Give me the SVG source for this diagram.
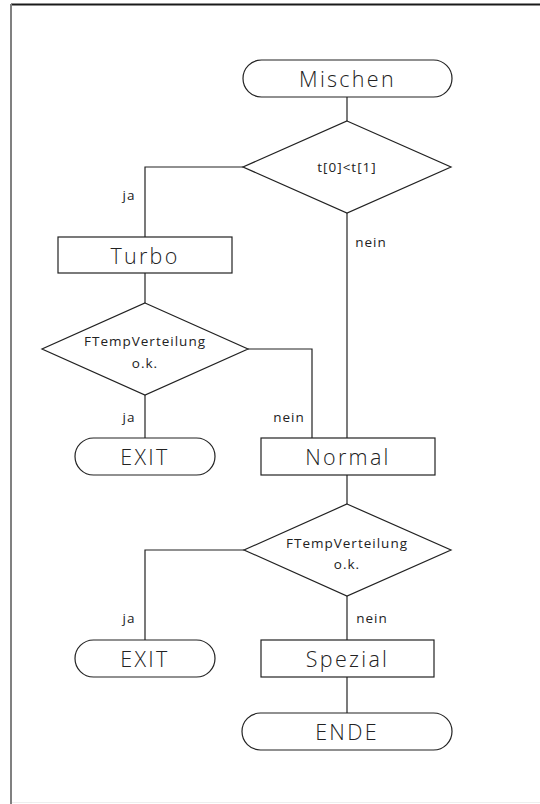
<svg xmlns="http://www.w3.org/2000/svg" width="540" height="804" viewBox="0 0 540 804">
  <style>
    .shape { fill: #ffffff; stroke: #222222; stroke-width: 1.2; }
    .wire { fill: none; stroke: #222222; stroke-width: 1.2; }
    .big { font-family: "Open Sans", "Liberation Sans", sans-serif; font-weight: 300; font-size: 21.5px; letter-spacing: 2.3px; fill: #222222; text-anchor: middle; dominant-baseline: central; }
    .small { font-family: "Open Sans", "Liberation Sans", sans-serif; font-weight: 400; font-size: 13.5px; letter-spacing: 1px; fill: #222222; text-anchor: middle; dominant-baseline: central; }
  </style>

  <!-- page frame -->
  <rect x="0" y="0" width="540" height="804" fill="#ffffff"/>
  <line x1="11" y1="4.5" x2="540" y2="4.5" stroke="#1a1a1a" stroke-width="2"/>
  <line x1="11" y1="4" x2="11" y2="804" stroke="#808080" stroke-width="2"/>
  <line x1="12" y1="802.5" x2="540" y2="802.5" stroke="#eeeeee" stroke-width="1"/>

  <g id="connectors">
    <line class="wire" x1="347" y1="97" x2="347" y2="121"/>
    <polyline class="wire" points="243,167 145,167 145,237"/>
    <line class="wire" x1="347" y1="213" x2="347" y2="438"/>
    <line class="wire" x1="145" y1="273" x2="145" y2="303"/>
    <line class="wire" x1="145" y1="395" x2="145" y2="438"/>
    <polyline class="wire" points="248,349 312,349 312,438"/>
    <line class="wire" x1="347" y1="475" x2="347" y2="504"/>
    <polyline class="wire" points="244,550 145,550 145,640"/>
    <line class="wire" x1="347" y1="596" x2="347" y2="640"/>
    <line class="wire" x1="347" y1="677" x2="347" y2="713"/>
    <text class="small" x="129" y="195">ja</text>
    <text class="small" x="371" y="242">nein</text>
    <text class="small" x="129" y="417">ja</text>
    <text class="small" x="289" y="417">nein</text>
    <text class="small" x="129" y="618">ja</text>
    <text class="small" x="372" y="618">nein</text>
  </g>

  <g id="mischen">
    <rect class="shape" x="243" y="60" width="209" height="37" rx="18.5"/>
    <text class="big" x="347.5" y="78.5">Mischen</text>
  </g>

  <g id="decision-t">
    <polygon class="shape" points="347,121 451,167 347,213 243,167"/>
    <text class="small" x="347" y="167">t[0]&lt;t[1]</text>
  </g>

  <g id="turbo">
    <rect class="shape" x="58" y="237" width="174" height="36"/>
    <text class="big" x="145" y="255">Turbo</text>
  </g>

  <g id="decision-ftemp-1">
    <polygon class="shape" points="145,303 248,349 145,395 42,349"/>
    <text class="small" x="145" y="341">FTempVerteilung</text>
    <text class="small" x="145" y="363">o.k.</text>
  </g>

  <g id="exit-1">
    <rect class="shape" x="75" y="438" width="140" height="37" rx="18.5"/>
    <text class="big" x="145" y="456.5">EXIT</text>
  </g>

  <g id="normal">
    <rect class="shape" x="261" y="438" width="174" height="37"/>
    <text class="big" x="348" y="456.5">Normal</text>
  </g>

  <g id="decision-ftemp-2">
    <polygon class="shape" points="347,504 451,550 347,596 244,550"/>
    <text class="small" x="347" y="543">FTempVerteilung</text>
    <text class="small" x="347" y="564">o.k.</text>
  </g>

  <g id="exit-2">
    <rect class="shape" x="75" y="640" width="140" height="37" rx="18.5"/>
    <text class="big" x="145" y="658.5">EXIT</text>
  </g>

  <g id="spezial">
    <rect class="shape" x="261" y="640" width="173" height="37"/>
    <text class="big" x="347.5" y="658.5">Spezial</text>
  </g>

  <g id="ende">
    <rect class="shape" x="242" y="713" width="210" height="37" rx="18.5"/>
    <text class="big" x="347" y="731.5">ENDE</text>
  </g>
</svg>
